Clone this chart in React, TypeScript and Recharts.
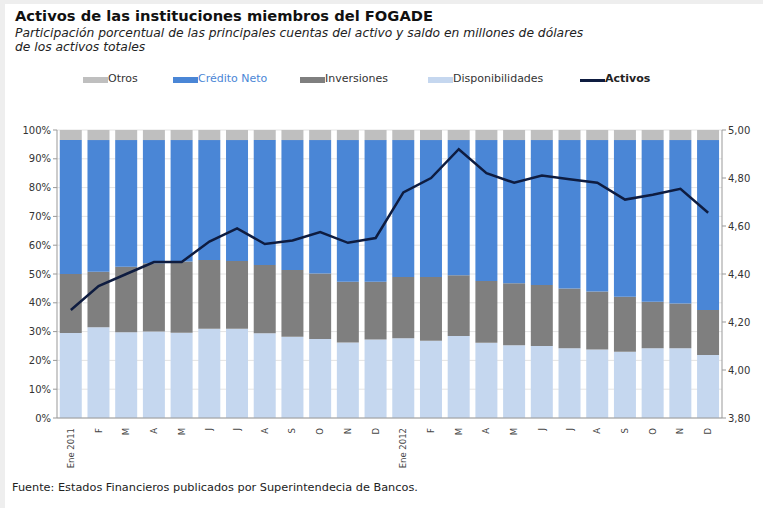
import React from "react";
import { ComposedChart, Bar, Line, XAxis, YAxis, CartesianGrid } from "recharts";

const months = ["Ene 2011","F","M","A","M","J","J","A","S","O","N","D","Ene 2012","F","M","A","M","J","J","A","S","O","N","D"];
const disponibilidades = [29.5,31.5,29.8,30.0,29.6,31.0,31.0,29.4,28.2,27.4,26.2,27.3,27.7,26.8,28.5,26.1,25.3,25.0,24.2,23.8,23.0,24.2,24.2,21.9];
const inversiones = [20.5,19.3,22.7,23.7,24.7,23.9,23.5,23.7,23.2,22.8,21.1,20.0,21.3,22.2,21.1,21.5,21.5,21.2,20.8,20.1,19.1,16.2,15.6,15.6];
const creditoNeto = [46.5,45.7,44.0,42.8,42.2,41.6,42.0,43.4,45.1,46.3,49.2,49.2,47.5,47.5,46.9,48.9,49.7,50.3,51.5,52.6,54.4,56.1,56.7,59.0];
const otros = [3.5,3.5,3.5,3.5,3.5,3.5,3.5,3.5,3.5,3.5,3.5,3.5,3.5,3.5,3.5,3.5,3.5,3.5,3.5,3.5,3.5,3.5,3.5,3.5];
const activos = [4.25,4.35,4.40,4.45,4.45,4.535,4.59,4.525,4.54,4.575,4.53,4.55,4.74,4.80,4.92,4.82,4.78,4.81,4.795,4.78,4.71,4.73,4.755,4.655];
const leftTicks = [0,10,20,30,40,50,60,70,80,90,100];
const rightTicks = [3.8,4.0,4.2,4.4,4.6,4.8,5.0];

const data = months.map((m, i) => ({
  idx: i,
  label: m,
  disp: disponibilidades[i],
  inv: inversiones[i],
  cred: creditoNeto[i],
  otros: otros[i],
  activos: activos[i],
}));

const C_OTROS = "#bfbfbf";
const C_CRED = "#4a86d6";
const C_INV = "#7f7f7f";
const C_DISP = "#c5d7ef";
const C_LINE = "#0e1c40";
const FONT = "DejaVu Sans, Verdana, sans-serif";

const XTick = (props: any) => {
  const { x, y, payload } = props;
  const ty = y + 2;
  return (
    <text
      x={x}
      y={ty}
      transform={`rotate(-90 ${x} ${ty})`}
      textAnchor="end"
      dy="0.35em"
      fontSize={8.5}
      fontFamily={FONT}
      fill="#444"
    >
      {months[payload.value]}
    </text>
  );
};

const legendItems = [
  { label: "Otros", color: C_OTROS, sx: 83, tx: 108, line: false, textColor: "#333", bold: false },
  { label: "Crédito Neto", color: C_CRED, sx: 173, tx: 198, line: false, textColor: "#4a86d6", bold: false },
  { label: "Inversiones", color: C_INV, sx: 300, tx: 325, line: false, textColor: "#333", bold: false },
  { label: "Disponibilidades", color: C_DISP, sx: 428, tx: 453, line: false, textColor: "#333", bold: false },
  { label: "Activos", color: C_LINE, sx: 580, tx: 605, line: true, textColor: "#222", bold: true },
];

export default function App() {
  return (
    <div style={{ position: "absolute", left: 0, top: 0, width: 763, height: 508, background: "#eeeeee", overflow: "hidden" }}>
      <div style={{ position: "absolute", left: 5, top: 4, width: 758, height: 504, background: "#ffffff" }} />
      <div style={{ position: "absolute", left: 0, top: 0 }}>
        <ComposedChart
          width={763}
          height={508}
          data={data}
          margin={{ top: 130, right: 0, left: 12, bottom: 40 }}
          barCategoryGap="10%"
        >
          <CartesianGrid vertical={false} stroke="#e4e4e4" yAxisId="left" />
          <XAxis
            dataKey="idx"
            type="category"
            tick={<XTick />}
            tickLine={false}
            axisLine={{ stroke: "#999" }}
            interval={0}
            height={50}
          />
          <YAxis
            yAxisId="left"
            domain={[0, 100]}
            ticks={leftTicks}
            tickFormatter={(v: number) => `${v}%`}
            width={45}
            tick={{ fontSize: 10, fontFamily: FONT, fill: "#333" }}
            axisLine={{ stroke: "#999" }}
            tickLine={{ stroke: "#999" }}
            tickSize={4}
            interval={0}
          />
          <YAxis
            yAxisId="right"
            orientation="right"
            domain={[3.8, 5.0]}
            ticks={rightTicks}
            tickFormatter={(v: number) => v.toFixed(2).replace(".", ",")}
            width={41}
            tick={{ fontSize: 10, fontFamily: FONT, fill: "#333" }}
            axisLine={{ stroke: "#999" }}
            tickLine={{ stroke: "#999" }}
            tickSize={4}
            interval={0}
          />
          <Bar yAxisId="left" dataKey="disp" stackId="a" fill={C_DISP} isAnimationActive={false} />
          <Bar yAxisId="left" dataKey="inv" stackId="a" fill={C_INV} isAnimationActive={false} />
          <Bar yAxisId="left" dataKey="cred" stackId="a" fill={C_CRED} isAnimationActive={false} />
          <Bar yAxisId="left" dataKey="otros" stackId="a" fill={C_OTROS} isAnimationActive={false} />
          <Line
            yAxisId="right"
            dataKey="activos"
            stroke={C_LINE}
            strokeWidth={2.5}
            dot={false}
            type="linear"
            isAnimationActive={false}
          />
        </ComposedChart>
      </div>
      <div style={{ position: "absolute", left: 15, top: 7, fontFamily: FONT, fontWeight: 700, fontSize: 14.7, color: "#111", whiteSpace: "nowrap" }}>
        Activos de las instituciones miembros del FOGADE
      </div>
      <div style={{ position: "absolute", left: 15, top: 26, fontFamily: FONT, fontStyle: "italic", fontSize: 12.3, lineHeight: "14px", color: "#222", whiteSpace: "nowrap" }}>
        Participación porcentual de las principales cuentas del activo y saldo en millones de dólares
        <br />
        de los activos totales
      </div>
      {legendItems.map((it) => (
        <React.Fragment key={it.label}>
          <div
            style={{
              position: "absolute",
              left: it.sx,
              top: it.line ? 79 : 77,
              width: 25,
              height: it.line ? 2.5 : 6,
              background: it.color,
            }}
          />
          <div
            style={{
              position: "absolute",
              left: it.tx,
              top: 72,
              fontFamily: FONT,
              fontSize: 11,
              fontWeight: it.bold ? 700 : 400,
              color: it.textColor,
              whiteSpace: "nowrap",
            }}
          >
            {it.label}
          </div>
        </React.Fragment>
      ))}
      <div style={{ position: "absolute", left: 12, top: 481, fontFamily: FONT, fontSize: 11.3, color: "#222", whiteSpace: "nowrap" }}>
        Fuente: Estados Financieros publicados por Superintendecia de Bancos.
      </div>
    </div>
  );
}
